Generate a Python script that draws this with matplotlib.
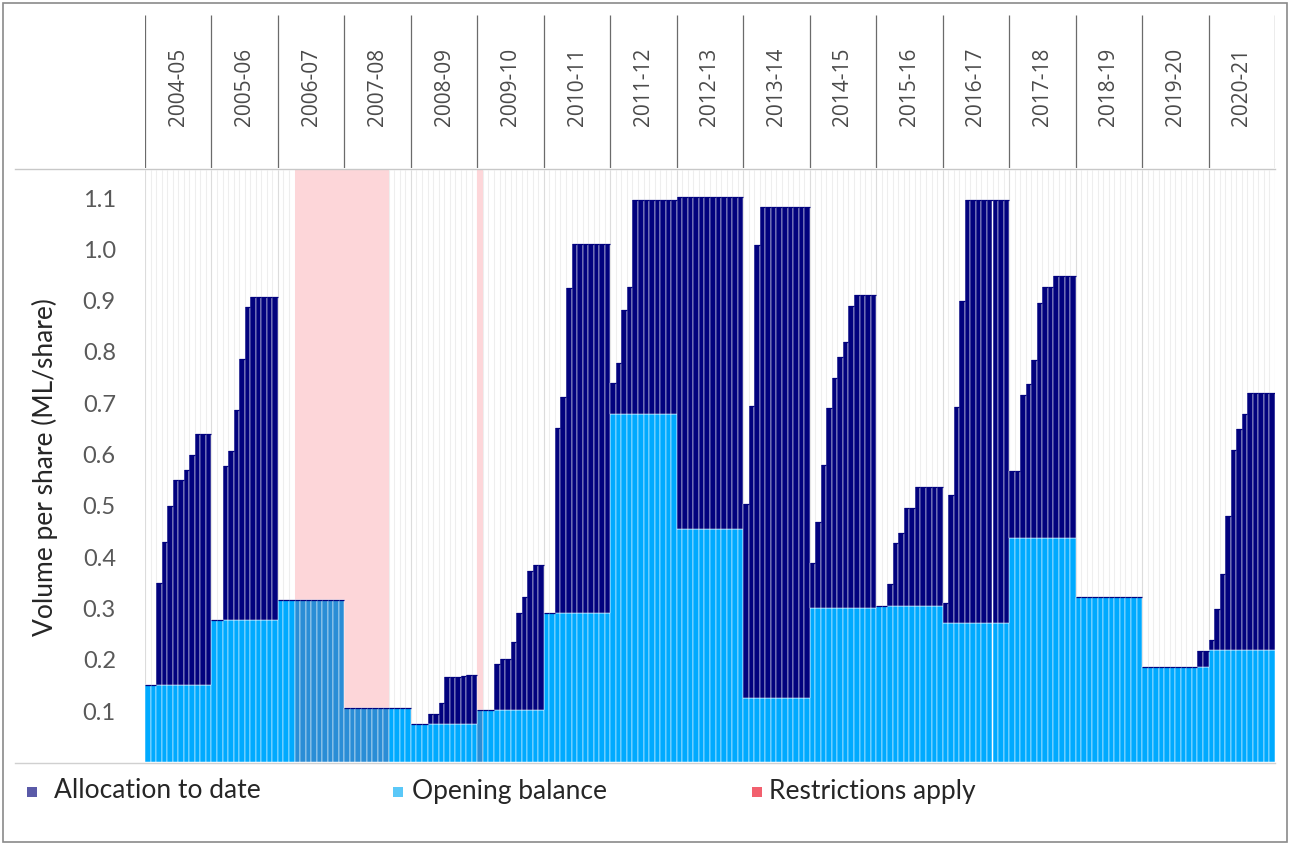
import numpy as np
import matplotlib
matplotlib.use("Agg")
import matplotlib.pyplot as plt
from matplotlib.lines import Line2D
from matplotlib.patches import Rectangle

# ---------------- data ----------------
years = ['2004-05', '2005-06', '2006-07', '2007-08', '2008-09', '2009-10',
         '2010-11', '2011-12', '2012-13', '2013-14', '2014-15', '2015-16',
         '2016-17', '2017-18', '2018-19', '2019-20', '2020-21']

# opening balance (ML/share), one value per water year
opening_balance = [0.150, 0.277, 0.317, 0.105, 0.074, 0.101, 0.292, 0.679, 0.455,
                   0.125, 0.300, 0.305, 0.271, 0.438, 0.323, 0.185, 0.218]

# allocation to date (ML/share), 12 months per water year
alloc_2004_05 = [0, 0, 0.20, 0.28, 0.35, 0.40, 0.40, 0.42, 0.45, 0.49, 0.49, 0.49]
alloc_2005_06 = [0, 0, 0.30, 0.33, 0.41, 0.51, 0.61, 0.63, 0.63, 0.63, 0.63, 0.63]
alloc_2006_07 = [0] * 12
alloc_2007_08 = [0] * 12
alloc_2008_09 = [0, 0, 0, 0.021, 0.021, 0.042, 0.092, 0.092, 0.092, 0.095, 0.097, 0.097]
alloc_2009_10 = [0, 0, 0, 0.090, 0.100, 0.100, 0.134, 0.190, 0.222, 0.272, 0.284, 0.284]
alloc_2010_11 = [0, 0, 0.36, 0.42, 0.632, 0.718, 0.718, 0.718, 0.718, 0.718, 0.718, 0.718]
alloc_2011_12 = [0.06, 0.10, 0.202, 0.248, 0.418, 0.418, 0.418, 0.418, 0.418, 0.418, 0.418, 0.418]
alloc_2012_13 = [0.646] * 12
alloc_2013_14 = [0.379, 0.569, 0.883, 0.958, 0.958, 0.958, 0.958, 0.958, 0.958, 0.958, 0.958, 0.958]
alloc_2014_15 = [0.089, 0.168, 0.28, 0.391, 0.45, 0.49, 0.52, 0.59, 0.61, 0.61, 0.61, 0.61]
alloc_2015_16 = [0, 0, 0.042, 0.122, 0.142, 0.191, 0.191, 0.231, 0.231, 0.231, 0.231, 0.231]
alloc_2016_17 = [0.04, 0.25, 0.421, 0.629, 0.826, 0.826, 0.826, 0.826, 0.826, 0.826, 0.826, 0.826]
alloc_2017_18 = [0.129, 0.129, 0.278, 0.299, 0.347, 0.458, 0.489, 0.489, 0.51, 0.51, 0.51, 0.51]
alloc_2018_19 = [0] * 12
alloc_2019_20 = [0, 0, 0, 0, 0, 0, 0, 0, 0, 0, 0.031, 0.031]
alloc_2020_21 = [0.021, 0.08, 0.15, 0.262, 0.39, 0.432, 0.46, 0.502, 0.502, 0.502, 0.502, 0.502]

allocations = [alloc_2004_05, alloc_2005_06, alloc_2006_07, alloc_2007_08, alloc_2008_09,
               alloc_2009_10, alloc_2010_11, alloc_2011_12, alloc_2012_13, alloc_2013_14,
               alloc_2014_15, alloc_2015_16, alloc_2016_17, alloc_2017_18, alloc_2018_19,
               alloc_2019_20, alloc_2020_21]

# restriction periods: (year, first month, last month) of the water year
restrictions = [('2006-07', 4, 12), ('2007-08', 1, 8), ('2009-10', 1, 1)]

y_ticks = [0.1, 0.2, 0.3, 0.4, 0.5, 0.6, 0.7, 0.8, 0.9, 1.0, 1.1]
y_label = 'Volume per share (ML/share)'
legend_labels = ['Allocation to date', 'Opening balance', 'Restrictions apply']

# ---------------- build monthly series ----------------
n_years = len(years)
opening_m = np.repeat(opening_balance, 12)
alloc_m = np.concatenate([np.array(a, dtype=float) for a in allocations])
x = np.arange(len(opening_m))

restricted = np.zeros(len(x), dtype=bool)
for yr, m0, m1 in restrictions:
    yi = years.index(yr)
    restricted[yi * 12 + m0 - 1: yi * 12 + m1] = True

# ---------------- styling ----------------
W, H = 1290, 844
navy = '#02027e'
light = '#00aaff'
light_restricted = '#2a8dd6'
pink = '#fdd6d9'
font_main = ['Lato', 'DejaVu Sans']

def fx(px):
    return px / W

def fy(py):
    return 1 - py / H

fig = plt.figure(figsize=(W / 100, H / 100), dpi=100)
fig.patch.set_facecolor('white')

ax_left, ax_right, ax_top, ax_bot = 145, 1275, 170, 762.3
ax = fig.add_axes([fx(ax_left), fy(ax_bot), fx(ax_right - ax_left), (ax_bot - ax_top) / H])
ymax = 1.1546
ax.set_ylim(0, ymax)
ax.set_xlim(-0.5, len(x) - 0.5)

# faint month gridlines
ax.vlines(np.arange(len(x) + 1) - 0.5, 0, ymax, color='#eeeeee', lw=0.8, zorder=0)
ax.vlines(np.arange(0, len(x) + 1, 12) - 0.5, 0, ymax, color='#dcdcdc', lw=0.8, zorder=0)

# restriction shading
for yr, m0, m1 in restrictions:
    yi = years.index(yr)
    ax.axvspan(yi * 12 + m0 - 1.5, yi * 12 + m1 - 0.5, color=pink, lw=0, zorder=1)

bar_colors = [light_restricted if r else light for r in restricted]
ax.bar(x, opening_m, width=1.0, color=bar_colors, edgecolor='white', linewidth=0.35, zorder=2)
ax.bar(x, alloc_m, width=1.0, bottom=opening_m, color=navy, edgecolor='white', linewidth=0.35, zorder=2)
# thin dark cap on top of each stack
ax.hlines(opening_m + alloc_m, x - 0.5, x + 0.5, color=navy, lw=0.9, zorder=2.5)

for s in ax.spines.values():
    s.set_visible(False)
ax.set_xticks([])
ax.set_yticks(y_ticks)
ax.set_yticklabels([f'{v:.1f}' for v in y_ticks], fontsize=17, color='#595959', family=font_main)
ax.tick_params(axis='y', length=0, pad=21)

fig.text(fx(45), fy(467), y_label, rotation=90, ha='center', va='center',
         fontsize=19, color='#262626', family=font_main)

# ---------------- header with year labels ----------------
hax = fig.add_axes([fx(ax_left), fy(168), fx(ax_right - ax_left), (168 - 15) / H])
hax.set_xlim(0, n_years)
hax.set_ylim(0, 1)
hax.axis('off')
hax.vlines(np.arange(n_years + 1), 0, 1, color='#6b6b6b', lw=0.9)
for i, yr in enumerate(years):
    hax.text(i + 0.5, (168 - 87) / (168 - 15), yr, rotation=90, ha='center', va='center',
             fontsize=15, color='#4a4a4a', family=['Open Sans', 'DejaVu Sans'])

# horizontal rules
fig.add_artist(Line2D([fx(15), fx(1275)], [fy(168.5), fy(168.5)], color='#c8c8c8', lw=1))
fig.add_artist(Line2D([fx(15), fx(1275)], [fy(763), fy(763)], color='#d0d0d0', lw=1))

# outer border
fig.add_artist(Rectangle((fx(3), fy(842)), fx(1284), (842 - 3) / H, fill=False,
                         edgecolor='#8a8a8a', lw=1.2, transform=fig.transFigure))

# ---------------- legend ----------------
legend_colors = ['#5a5aa8', '#5ac8f8', '#f2606e']
legend_sq_x = [27, 393, 752]
legend_txt_x = [54, 412, 769]
for lab, col, sx, tx in zip(legend_labels, legend_colors, legend_sq_x, legend_txt_x):
    fig.add_artist(Rectangle((fx(sx), fy(797)), fx(10), 10 / H, facecolor=col,
                             edgecolor='none', transform=fig.transFigure))
    fig.text(fx(tx), fy(791), lab, ha='left', va='center', fontsize=19,
             color='#262626', family=font_main)

fig.savefig('out.png', dpi=100, facecolor='white')
